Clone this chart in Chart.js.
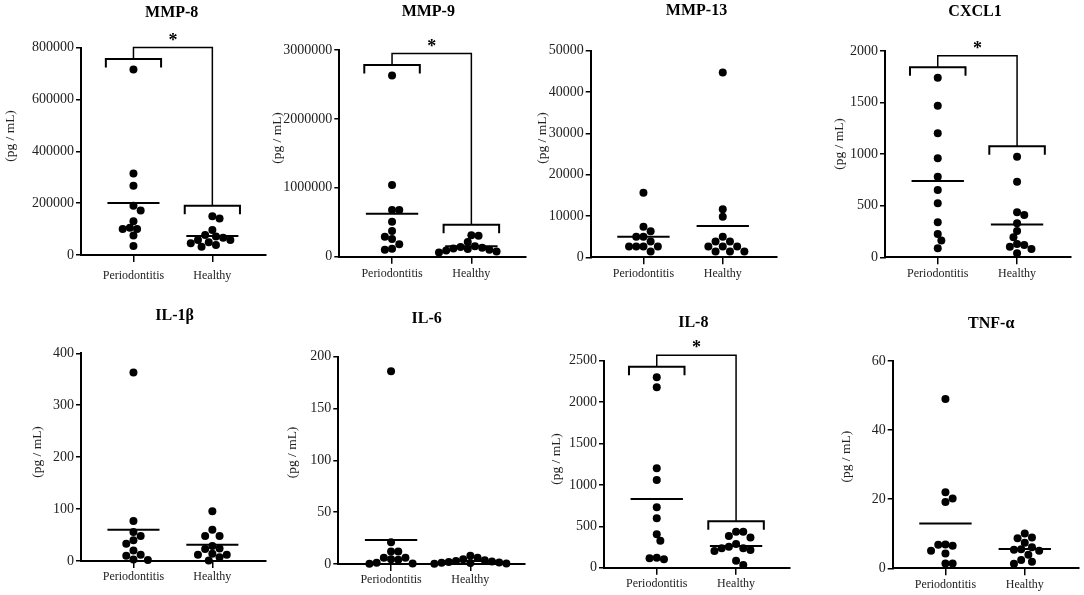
<!DOCTYPE html>
<html><head><meta charset="utf-8">
<script src="https://cdn.jsdelivr.net/npm/chart.js@4.4.1/dist/chart.umd.min.js"></script>
<style>
html,body{margin:0;padding:0;background:#fff;}
body{width:1084px;height:595px;position:relative;overflow:hidden;}
canvas{position:absolute;}
</style></head><body>
<script>
// ---------------- DATA ----------------
const categories = ['Periodontitis', 'Healthy'];
const analytes = ['MMP-8', 'MMP-9', 'MMP-13', 'CXCL1', 'IL-1β', 'IL-6', 'IL-8', 'TNF-α'];
const yMaxima = [800000, 3000000, 50000, 2000, 400, 200, 2500, 60];
const yStepSizes = [200000, 1000000, 10000, 500, 100, 50, 500, 20];
const significant = [true, true, false, true, false, false, true, false];
const yAxisTitle = '(pg / mL)';

const mmp8Periodontitis = [716000, 315000, 267000, 190000, 172000, 130000, 105000, 100000, 100000, 75000, 35000];
const mmp8Healthy = [150000, 141000, 96000, 77000, 71000, 67000, 58000, 58000, 49000, 45000, 39000, 32000];
const mmp9Periodontitis = [2630000, 1040000, 677000, 677000, 508000, 373000, 290000, 256000, 179000, 116000, 102000];
const mmp9Healthy = [310000, 305000, 215000, 150000, 140000, 130000, 120000, 110000, 100000, 90000, 75000, 60000];
const mmp13Periodontitis = [15600, 7400, 6300, 5000, 5000, 3800, 2600, 2600, 2600, 2600, 1400];
const mmp13Healthy = [44700, 11600, 9800, 5000, 3800, 3800, 2600, 2600, 2600, 1400, 1400, 1400];
const cxcl1Periodontitis = [1741, 1470, 1202, 960, 782, 653, 524, 339, 226, 162, 87];
const cxcl1Healthy = [976, 733, 436, 410, 330, 255, 194, 129, 120, 103, 81, 39];
const il1bPeriodontitis = [363, 77, 56, 48, 40, 33, 20, 12, 10, 3, 2];
const il1bHealthy = [96, 60, 48, 48, 29, 24, 23, 14, 12, 12, 7, 1];
const il6Periodontitis = [186, 21, 12, 12, 6, 6, 4.5, 4, 1.3, 0.6, 0.3];
const il6Healthy = [8, 6, 4.5, 3.5, 3, 2.3, 2, 1.5, 1.3, 1, 0.6, 0.3];
const il8Periodontitis = [2299, 2178, 1200, 1059, 729, 596, 403, 326, 121, 113, 101];
const il8Healthy = [435, 435, 382, 366, 286, 254, 234, 234, 213, 201, 85, 32];
const tnfPeriodontitis = [49, 22, 20.2, 19.2, 6.9, 6.8, 6.5, 5.1, 4.3, 1.4, 1.4];
const tnfHealthy = [10.1, 8.9, 8.7, 7.4, 6.1, 5.5, 5.4, 5.1, 3.9, 2.4, 1.9, 1.3];

const periodontitisValues = [mmp8Periodontitis, mmp9Periodontitis, mmp13Periodontitis, cxcl1Periodontitis,
  il1bPeriodontitis, il6Periodontitis, il8Periodontitis, tnfPeriodontitis];
const healthyValues = [mmp8Healthy, mmp9Healthy, mmp13Healthy, cxcl1Healthy,
  il1bHealthy, il6Healthy, il8Healthy, tnfHealthy];

// ---------------- LAYOUT (page pixels) ----------------
const AXIS_W = 186, X_LEFT = 0.665, X_RIGHT = 0.68, MARGIN = 20;
const FONT = '"Liberation Serif", "Times New Roman", serif';
const panels = [
  {cx:0,   cy:0,   cw:270, ch:290, axisX:81,    top:47.7,  bottom:255,   titleX:171.7, titleY:12.8,  ytX:10,    ytY:136,   xGap:20.8},
  {cx:270, cy:0,   cw:270, ch:290, axisX:339.3, top:50,    bottom:256.7, titleX:428.3, titleY:11.7,  ytX:277,   ytY:138,   xGap:17},
  {cx:540, cy:0,   cw:270, ch:290, axisX:590.7, top:50.7,  bottom:257.3, titleX:696.5, titleY:11,    ytX:542,   ytY:138,   xGap:16.5},
  {cx:810, cy:0,   cw:274, ch:290, axisX:885,   top:51,    bottom:257.3, titleX:975,   titleY:12.3,  ytX:839,   ytY:144,   xGap:16.5},
  {cx:0,   cy:290, cw:270, ch:305, axisX:81,    top:353.3, bottom:561,   titleX:174.7, titleY:316.2, ytX:37.5,  ytY:452,   xGap:15.7},
  {cx:270, cy:290, cw:270, ch:305, axisX:338.3, top:356.7, bottom:564,   titleX:426.7, titleY:319,   ytX:292.7, ytY:452.5, xGap:16.3},
  {cx:540, cy:290, cw:270, ch:305, axisX:604,   top:360.7, bottom:567.7, titleX:693.3, titleY:323.3, ytX:556,   ytY:459,   xGap:16.3},
  {cx:810, cy:290, cw:274, ch:305, axisX:892.7, top:361,   bottom:568.3, titleX:991.2, titleY:324.3, ytX:846.5, ytY:456.7, xGap:16.5}
];

const mean = a => a.reduce((s, v) => s + v, 0) / a.length;

// beeswarm offsets (pixels) from pixel y positions
function swarm(pys, minDist, step) {
  const order = pys.map((_, i) => i).sort((a, b) => pys[a] - pys[b]);
  const placed = [];
  const offs = new Array(pys.length).fill(0);
  let flip = 1;
  for (const i of order) {
    const py = pys[i];
    let chosen = 0;
    for (let k = 0; k < 80; k++) {
      const cands = k === 0 ? [0] : [flip * k * step, -flip * k * step];
      const ok = cands.find(dx => placed.every(q => Math.hypot(q.x - dx, q.y - py) >= minDist));
      if (ok !== undefined) { chosen = ok; break; }
    }
    if (chosen !== 0) flip = -Math.sign(chosen);
    offs[i] = chosen;
    placed.push({x: chosen, y: py});
  }
  return offs;
}

const decorPlugin = {
  id: 'decor',
  afterDraw(chart, args, opts) {
    const {ctx} = chart;
    const x = chart.scales.x, y = chart.scales.y;
    const p = opts.panel, ox = opts.ox;
    ctx.save();
    ctx.fillStyle = '#000';
    ctx.textAlign = 'center';
    ctx.textBaseline = 'middle';
    ctx.font = 'bold 16px ' + FONT;
    ctx.fillText(opts.title, p.titleX - ox, p.titleY - p.cy);

    ctx.save();
    ctx.translate(p.ytX - ox, p.ytY - p.cy);
    ctx.rotate(-Math.PI / 2);
    ctx.font = '13.5px ' + FONT;
    ctx.fillStyle = '#222';
    ctx.fillText(yAxisTitle, 0, 0);
    ctx.restore();

    if (opts.significant) {
      const groups = opts.groups;
      const bracketY = groups.map(vals => y.getPixelForValue(Math.max(...vals)) - 10.5);
      const topY = Math.min(...bracketY) - 11.5;
      ctx.strokeStyle = '#000';
      ctx.lineWidth = 2;
      groups.forEach((vals, g) => {
        const c = g + 1;
        const l = x.getPixelForValue(c - 0.35), r = x.getPixelForValue(c + 0.35);
        ctx.beginPath();
        ctx.moveTo(l, bracketY[g] + 8.5);
        ctx.lineTo(l, bracketY[g]);
        ctx.lineTo(r, bracketY[g]);
        ctx.lineTo(r, bracketY[g] + 8.5);
        ctx.stroke();
      });
      const x1 = x.getPixelForValue(1), x2 = x.getPixelForValue(2);
      ctx.lineWidth = 1.5;
      ctx.beginPath();
      ctx.moveTo(x1, bracketY[0]);
      ctx.lineTo(x1, topY);
      ctx.lineTo(x2, topY);
      ctx.lineTo(x2, bracketY[1]);
      ctx.stroke();
      ctx.font = 'bold 18px ' + FONT;
      ctx.textBaseline = 'alphabetic';
      ctx.fillText('*', (x1 + x2) / 2, topY - 10.5 + 8.6);
    }
    ctx.restore();
  }
};

analytes.forEach((name, idx) => {
  const p = panels[idx];
  const ox = p.cx - MARGIN, w = p.cw + MARGIN;
  const canvas = document.createElement('canvas');
  canvas.width = w; canvas.height = p.ch;
  canvas.style.left = ox + 'px'; canvas.style.top = p.cy + 'px';
  canvas.style.width = w + 'px'; canvas.style.height = p.ch + 'px';
  document.body.appendChild(canvas);

  const groups = [periodontitisValues[idx], healthyValues[idx]];
  const dotSets = groups.map((vals, g) => ({
    label: categories[g],
    data: vals.map(v => ({x: g + 1, y: v})),
    pointRadius: 4,
    pointHoverRadius: 4,
    pointBorderWidth: 0,
    pointBackgroundColor: '#000',
    backgroundColor: '#000',
    borderColor: '#000',
    clip: false,
    order: 0
  }));
  const meanSets = groups.map((vals, g) => ({
    label: categories[g] + ' mean',
    data: [{x: g + 1 - 0.33, y: mean(vals)}, {x: g + 1 + 0.33, y: mean(vals)}],
    showLine: true,
    pointRadius: 0,
    borderColor: '#000',
    borderWidth: 2,
    clip: false,
    order: 1
  }));

  const chart = new Chart(canvas, {
    type: 'scatter',
    data: {datasets: [...dotSets, ...meanSets]},
    options: {
      responsive: false,
      animation: false,
      events: [],
      layout: {padding: {left: 0, top: p.top - p.cy, right: ox + w - (p.axisX + AXIS_W), bottom: 0}},
      plugins: {
        legend: {display: false},
        tooltip: {enabled: false},
        decor: {panel: p, ox, title: name, significant: significant[idx], groups}
      },
      scales: {
        x: {
          type: 'linear',
          min: 1 - X_LEFT,
          max: 2 + X_RIGHT,
          afterBuildTicks: s => { s.ticks = [{value: 1}, {value: 2}]; },
          afterFit: s => { s.height = p.cy + p.ch - p.bottom; },
          ticks: {
            callback: v => categories[Math.round(v) - 1],
            font: {family: FONT, size: 12},
            color: '#222',
            padding: p.xGap - 7 - 7.2,
            maxRotation: 0,
            autoSkip: false
          },
          grid: {drawOnChartArea: false, drawTicks: true, tickLength: 7, color: '#000', lineWidth: 1.5},
          border: {display: true, color: '#000', width: 2}
        },
        y: {
          type: 'linear',
          min: 0,
          max: yMaxima[idx],
          afterFit: s => { s.width = p.axisX - ox; },
          ticks: {
            stepSize: yStepSizes[idx],
            callback: v => String(v),
            font: {family: FONT, size: 14},
            color: '#222',
            padding: 2
          },
          grid: {drawOnChartArea: false, drawTicks: true, tickLength: 5, color: '#000', lineWidth: 1.5},
          border: {display: true, color: '#000', width: 2}
        }
      }
    },
    plugins: [decorPlugin]
  });

  const xs = chart.scales.x, ys = chart.scales.y;
  const unit = xs.getPixelForValue(2) - xs.getPixelForValue(1);
  groups.forEach((vals, g) => {
    const offs = swarm(vals.map(v => ys.getPixelForValue(v)), 7.2, 3.6);
    chart.data.datasets[g].data = vals.map((v, i) => ({x: g + 1 + offs[i] / unit, y: v}));
  });
  chart.update('none');
});
</script>
</body></html>
